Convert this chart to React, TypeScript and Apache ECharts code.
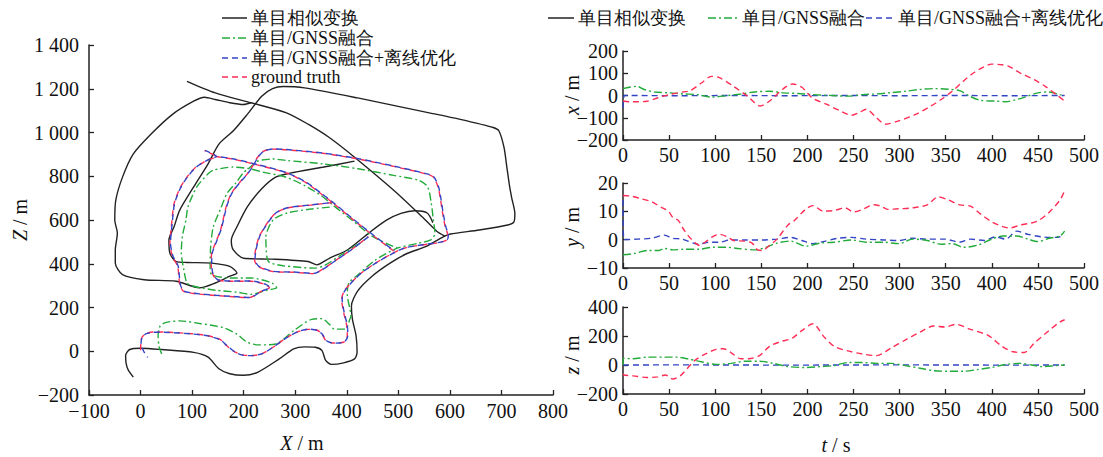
import React, { useEffect, useRef } from "react";
import * as echarts from "echarts";

// ---------- Left: trajectories (X, Z in m) ----------
const truthMain: number[][] = [[0,5],[2,60],[10,80],[25,88],[55,87],[100,80],[131,71],[155,53],[166,28],[182,-2],[200,-18],[214,-20],[235,-12],[262,26],[283,62],[304,88],[325,100],[342,97],[352,78],[359,50],[373,38],[394,41],[401,70],[400,116],[394,177],[390,237],[395,275],[411,320],[428,358],[456,403],[484,441],[511,471],[546,486],[581,498],[594,509],[596,531],[591,569],[586,630],[582,691],[577,751],[568,796],[553,811],[491,845],[422,879],[353,905],[283,921],[256,924],[238,914],[227,887],[218,849],[207,811],[193,774],[176,721],[166,660],[160,600],[155,554],[145,493],[138,448],[137,403],[139,358],[148,327],[173,320],[214,320],[242,305],[250,290],[235,275],[211,245],[180,249],[145,255],[103,264],[83,275],[76,305],[72,388],[62,433],[57,493],[59,554],[61,600],[65,675],[76,743],[90,796],[107,841],[128,872],[146,890],[124,917]];
const truthDiag: number[][] = [[146,890],[180,878],[230,850],[283,815],[320,772],[350,720],[373,678],[411,604],[449,533],[491,458]];
const truthInner: number[][] = [[373,680],[330,668],[284,655],[262,632],[250,600],[240,565],[230,524],[223,463],[221,418],[228,388],[255,365],[297,361],[335,355],[352,373],[380,418],[408,463],[442,524]];

const optMain: number[][] = [[14,-28],[6,0],[1,40],[3,62],[10,79],[25,87],[55,86],[100,79],[131,70],[155,52],[167,27],[183,-3],[200,-19],[214,-20],[236,-11],[262,27],[284,63],[305,89],[325,101],[342,96],[353,77],[360,49],[374,37],[395,42],[402,71],[401,117],[395,178],[391,238],[396,276],[412,321],[429,359],[457,404],[485,442],[512,472],[547,487],[582,499],[595,510],[597,532],[592,570],[587,631],[583,692],[578,752],[569,797],[554,812],[492,846],[423,880],[354,906],[284,922],[257,925],[239,915],[228,888],[219,850],[208,812],[194,775],[177,722],[167,661],[161,601],[156,555],[146,494],[139,449],[138,404],[140,359],[149,328],[174,321],[215,321],[243,306],[251,291],[236,276],[212,246],[181,250],[146,256],[104,265],[84,276],[77,306],[73,389],[63,434],[58,494],[60,555],[62,601],[66,676],[77,744],[91,797],[108,842],[129,873],[147,891],[125,918]];
const optDiag: number[][] = [[147,891],[181,879],[231,851],[284,816],[321,773],[351,721],[374,679],[412,605],[450,534],[492,459]];
const optInner: number[][] = [[374,681],[331,669],[285,656],[263,633],[251,601],[241,566],[231,525],[224,464],[222,419],[229,389],[256,366],[298,362],[336,356],[353,374],[381,419],[409,464],[443,525]];

const fusedMain: number[][] = [[41,-12],[36,20],[34,71],[38,116],[48,131],[76,139],[117,126],[159,109],[187,78],[207,41],[228,29],[262,33],[297,94],[332,146],[352,149],[366,124],[376,101],[397,101],[406,146],[408,161],[401,260],[404,312],[422,350],[456,418],[498,471],[539,494],[563,509],[571,539],[568,600],[564,675],[557,751],[540,781],[491,804],[422,834],[353,857],[283,872],[257,879],[235,874],[226,868],[212,840],[199,815],[185,770],[168,723],[155,650],[141,568],[136,480],[135,385],[138,350],[173,335],[214,335],[255,312],[264,290],[245,279],[214,260],[187,270],[145,279],[103,297],[90,312],[84,373],[79,448],[81,524],[88,600],[92,660],[109,751],[131,811],[141,828],[179,842],[212,834],[237,819]];
const fusedDiag: number[][] = [[237,819],[283,795],[320,755],[350,712],[373,668],[411,598],[449,526],[498,471]];
const fusedInner: number[][] = [[367,659],[330,650],[284,632],[257,600],[243,522],[245,431],[250,406],[276,391],[338,380],[356,391],[394,448],[435,509]];

const monoMain: number[][] = [[-14,-118],[-24,-85],[-28,-55],[-29,-20],[-21,8],[0,14],[41,8],[103,-5],[131,-27],[152,-80],[173,-103],[200,-110],[228,-95],[269,-35],[297,11],[318,20],[339,18],[352,3],[359,-42],[370,-60],[394,-53],[415,-35],[420,-5],[418,71],[411,146],[409,207],[421,275],[449,343],[484,403],[518,448],[553,478],[588,524],[601,536],[657,554],[712,577],[724,590],[726,630],[720,700],[716,751],[710,850],[705,932],[695,1008],[684,1023],[620,1060],[560,1090],[421,1158],[318,1204],[277,1210],[256,1201],[235,1166],[207,1083],[180,1008],[152,947],[131,857],[103,751],[76,645],[65,569],[55,508],[57,448],[69,410],[90,406],[138,403],[173,388],[187,358],[173,343],[145,312],[114,290],[69,320],[7,327],[-35,350],[-49,403],[-49,463],[-45,539],[-50,600],[-48,691],[-35,796],[-14,902],[20,992],[62,1083],[103,1143],[124,1161],[145,1151],[173,1136],[200,1128],[214,1136]];
const monoDiag: number[][] = [[90,1234],[145,1181],[214,1136],[283,1090],[325,1038],[366,977],[415,887],[491,736],[546,615],[574,550],[590,526]];
const monoInner: number[][] = [[415,869],[353,841],[290,814],[262,796],[235,743],[207,660],[187,569],[176,508],[180,463],[200,425],[255,421],[325,410],[342,395],[366,425],[401,463],[442,539],[477,599],[505,630],[532,642],[556,632],[567,588]];

// ---------- Right: errors vs time (t in s) ----------
const xErrMono: number[][] = [[0,-25],[8,-28],[15,-28],[26,-26],[38,-10],[50,4],[65,16],[73,22],[85,56],[96,86],[104,81],[120,41],[135,-3],[149,-47],[159,-25],[174,31],[184,52],[194,37],[205,-10],[221,-40],[236,-70],[248,-89],[256,-77],[264,-62],[273,-92],[285,-129],[299,-114],[318,-84],[334,-47],[345,-18],[357,19],[369,64],[380,101],[392,130],[400,141],[411,138],[419,130],[431,101],[446,71],[458,41],[470,4],[479,-25]];
const xErrFused: number[][] = [[0,31],[7,37],[15,41],[23,27],[34,16],[50,12],[65,7],[81,4],[96,-7],[112,-1],[128,7],[143,16],[159,19],[174,12],[190,9],[205,4],[221,1],[244,-3],[260,4],[275,7],[291,13],[306,19],[322,27],[337,31],[353,28],[365,22],[376,-3],[388,-22],[404,-25],[415,-28],[427,-18],[439,-3],[450,12],[462,16],[474,4],[479,0]];
const xErrOpt: number[][] = [[0,-55],[1,0],[60,-1],[120,0],[180,-1],[240,0],[300,-1],[360,0],[420,-1],[479,0]];

const yErrMono: number[][] = [[0,15.6],[8,15.4],[19,14.5],[31,13.4],[41,11.5],[49,10.1],[54,7.9],[60,6.8],[66,3.5],[74,0.2],[83,-2],[89,-0.9],[97,1],[105,1.9],[113,1],[120,-0.3],[132,-0.5],[140,-1.2],[146,-3.6],[151,-3.8],[159,-2],[167,0.2],[179,5.2],[186,6.8],[198,10.7],[206,12],[217,10.1],[229,10.3],[241,11.2],[250,9.8],[260,10.7],[272,12.3],[280,11.8],[287,10.7],[299,10.9],[314,11.2],[330,12.3],[342,15.1],[353,14],[365,12.3],[377,11.8],[388,9],[400,6.3],[412,4.6],[419,4.1],[431,5.2],[443,5.9],[451,6.8],[462,9.6],[474,14],[479,17.3]];
const yErrFused: number[][] = [[0,-5.3],[12,-4.9],[27,-3.8],[39,-3.8],[45,-3.1],[54,-3.6],[66,-3.4],[82,-3.4],[97,-2.7],[113,-2.7],[124,-3.1],[144,-3.6],[155,-2.7],[167,-1.2],[182,-0.5],[198,-2.3],[214,-1.2],[229,-0.9],[248,-0.1],[264,-0.9],[283,-0.9],[299,-1.4],[314,0.2],[330,-0.3],[345,-1.6],[357,-1.4],[369,-2.7],[384,-2],[400,0.2],[412,1.3],[427,1.3],[439,0.2],[450,-0.7],[462,0.5],[474,1.3],[479,3]];
const yErrOpt: number[][] = [[0,14],[1,0],[16,0.2],[31,0.5],[45,1.6],[54,0.5],[64,0.2],[82,-1.6],[93,-0.9],[105,-0.9],[116,-0.1],[132,-0.1],[151,-0.1],[167,0.2],[182,0.8],[194,-0.3],[206,-1.4],[217,-0.7],[233,0.5],[248,0.8],[264,0.2],[283,-0.1],[299,-0.3],[314,0.5],[330,0.2],[349,0.2],[365,-0.9],[377,0.2],[392,-0.3],[404,1],[415,0.2],[427,3],[439,1.9],[454,1],[470,0.8],[479,1.6]];

const zErrMono: number[][] = [[0,-60],[1,-69],[11,-75],[26,-86],[38,-82],[46,-69],[54,-97],[62,-75],[70,-22],[78,32],[89,75],[101,108],[109,112],[117,86],[128,43],[136,43],[148,65],[159,129],[171,161],[183,183],[194,237],[206,284],[218,194],[229,129],[244,97],[260,75],[275,65],[291,118],[306,172],[322,226],[337,269],[349,262],[361,280],[376,248],[396,204],[411,129],[423,91],[435,86],[446,151],[462,237],[474,297],[479,312]];
const zErrFused: number[][] = [[0,0],[0.5,47],[11,43],[26,54],[46,54],[58,54],[70,43],[85,22],[101,4],[117,11],[132,26],[148,26],[163,11],[179,-11],[198,-17],[214,-11],[229,-4],[244,17],[260,17],[275,11],[291,11],[306,-4],[322,-22],[337,-39],[353,-43],[369,-43],[384,-32],[400,-17],[415,4],[431,11],[443,0],[454,-11],[470,-4],[479,0]];
const zErrOpt: number[][] = [[0,0],[60,1],[120,0],[180,-1],[240,0],[300,1],[360,0],[420,-1],[479,0]];

const legendLeft = ["单目相似变换", "单目/GNSS融合", "单目/GNSS融合+离线优化", "ground truth"];
const legendRight = ["单目相似变换", "单目/GNSS融合", "单目/GNSS融合+离线优化"];

const BLACK = "#222222";
const GREEN = "#22aa3a";
const BLUE = "#3344c4";
const RED = "#ff2d55";
const FONT = "Liberation Serif";

const fmt = (v: number) => {
  const a = Math.abs(v);
  const s = a >= 1000 ? String(a).replace(/\B(?=(\d{3})+(?!\d))/g, " ") : String(a);
  return (v < 0 ? "\u2212" : "") + s;
};

type Kind = "solid" | "dash" | "dashdot";
const mk = (data: number[][], color: string, kind: Kind, idx: number, offset = 0, smooth = 0.25) => ({
  type: "line",
  xAxisIndex: idx,
  yAxisIndex: idx,
  data,
  showSymbol: false,
  symbol: "none",
  smooth,
  lineStyle: {
    color,
    width: 1.4,
    type: kind === "solid" ? "solid" : kind === "dash" ? [6, 4] : [8, 3, 2, 3],
    dashOffset: offset,
  },
  silent: true,
});

const axisCommon = {
  axisLine: { show: true, onZero: false, lineStyle: { color: "#222", width: 1.5 } },
  axisTick: { show: true, inside: true, length: 5, lineStyle: { color: "#222", width: 1.3 } },
  splitLine: { show: false },
  axisLabel: { color: "#111", fontSize: 20, fontFamily: FONT, formatter: fmt },
};

export default function App() {
  const ref = useRef<HTMLDivElement>(null);
  useEffect(() => {
    document.body.style.margin = "0";
    const chart = echarts.init(ref.current!, null, { renderer: "svg" });
    const grids = [
      { left: 89, top: 45, width: 464, height: 350 },
      { left: 623, top: 51, width: 461, height: 89 },
      { left: 623, top: 183, width: 461, height: 85 },
      { left: 623, top: 307, width: 461, height: 87 },
    ];
    const xAxes = [
      { gridIndex: 0, type: "value", min: -100, max: 800, interval: 100, ...axisCommon, axisLabel: { ...axisCommon.axisLabel, margin: 6 } },
      ...[1, 2, 3].map((g) => ({ gridIndex: g, type: "value", min: 0, max: 500, interval: 50, ...axisCommon, axisLabel: { ...axisCommon.axisLabel, margin: 5 } })),
    ];
    const yAxes = [
      { gridIndex: 0, type: "value", min: -200, max: 1400, interval: 200, ...axisCommon, axisLabel: { ...axisCommon.axisLabel, margin: 10 } },
      { gridIndex: 1, type: "value", min: -200, max: 200, interval: 100, ...axisCommon, axisLabel: { ...axisCommon.axisLabel, margin: 5 } },
      { gridIndex: 2, type: "value", min: -10, max: 20, interval: 10, ...axisCommon, axisLabel: { ...axisCommon.axisLabel, margin: 5 } },
      { gridIndex: 3, type: "value", min: -200, max: 400, interval: 200, ...axisCommon, axisLabel: { ...axisCommon.axisLabel, margin: 5 } },
    ];
    const series = [
      mk(monoMain, BLACK, "solid", 0),
      mk(monoDiag, BLACK, "solid", 0),
      mk(monoInner, BLACK, "solid", 0),
      mk(fusedMain, GREEN, "dashdot", 0),
      mk(fusedDiag, GREEN, "dashdot", 0),
      mk(fusedInner, GREEN, "dashdot", 0),
      mk(truthMain, RED, "dash", 0),
      mk(truthDiag, RED, "dash", 0),
      mk(truthInner, RED, "dash", 0),
      mk(optMain, BLUE, "dash", 0, 5),
      mk(optDiag, BLUE, "dash", 0, 5),
      mk(optInner, BLUE, "dash", 0, 5),
      mk(xErrOpt, BLUE, "dash", 1, 0, 0),
      mk(xErrFused, GREEN, "dashdot", 1, 0, 0.3),
      mk(xErrMono, RED, "dash", 1, 0, 0.3),
      mk(yErrOpt, BLUE, "dash", 2, 0, 0.3),
      mk(yErrFused, GREEN, "dashdot", 2, 0, 0.3),
      mk(yErrMono, RED, "dash", 2, 0, 0.3),
      mk(zErrOpt, BLUE, "dash", 3, 0, 0),
      mk(zErrFused, GREEN, "dashdot", 3, 0, 0.3),
      mk(zErrMono, RED, "dash", 3, 0, 0.3),
    ];

    const legendLine = (x1: number, x2: number, y: number, color: string, kind: Kind) => ({
      type: "line",
      shape: { x1, y1: y, x2, y2: y },
      style: { stroke: color, lineWidth: 1.5, lineDash: kind === "solid" ? null : kind === "dash" ? [6, 4] : [8, 3, 2, 3] },
      silent: true,
    });
    const legendText = (x: number, y: number, text: string) => ({
      type: "text",
      x,
      y,
      style: { text, fill: "#111", fontSize: 18, fontFamily: FONT, textAlign: "left", textVerticalAlign: "middle", align: "left", verticalAlign: "middle" },
      silent: true,
    });
    const nameText = (x: number, y: number, v: string, unit: string, rotate: boolean) => ({
      type: "text",
      x,
      y,
      rotation: rotate ? Math.PI / 2 : 0,
      style: {
        text: `{i|${v}}{n| / ${unit}}`,
        rich: {
          i: { fontStyle: "italic", fontSize: 20, fontFamily: FONT, fill: "#111" },
          n: { fontSize: 20, fontFamily: FONT, fill: "#111" },
        },
        fontSize: 20,
        fontFamily: FONT,
        textAlign: "center",
        textVerticalAlign: "middle",
        align: "center",
        verticalAlign: "middle",
      },
      silent: true,
    });

    const leftColors: [string, Kind][] = [[BLACK, "solid"], [GREEN, "dashdot"], [BLUE, "dash"], [RED, "dash"]];
    const leftRows = [18, 38, 58, 77];
    const graphic: any[] = [];
    legendLeft.forEach((t, i) => {
      graphic.push(legendLine(222, 247, leftRows[i], leftColors[i][0], leftColors[i][1]));
      graphic.push(legendText(251, leftRows[i], t));
    });
    const rightPos = [[548, 574, 578], [708, 737, 742], [866, 893, 898]];
    legendRight.forEach((t, i) => {
      graphic.push(legendLine(rightPos[i][0], rightPos[i][1], 18, leftColors[i][0], leftColors[i][1]));
      graphic.push(legendText(rightPos[i][2], 18, t));
    });
    graphic.push(nameText(20, 220, "Z", "m", true));
    graphic.push(nameText(302, 443, "X", "m", false));
    graphic.push(nameText(836, 445, "t", "s", false));
    graphic.push(nameText(572, 95, "x", "m", true));
    graphic.push(nameText(572, 227, "y", "m", true));
    graphic.push(nameText(572, 355, "z", "m", true));

    chart.setOption({
      animation: false,
      backgroundColor: "#ffffff",
      grid: grids,
      xAxis: xAxes,
      yAxis: yAxes,
      series,
      graphic,
    } as any);
    return () => chart.dispose();
  }, []);
  return <div ref={ref} style={{ position: "fixed", left: 0, top: 0, width: 1103, height: 457 }} />;
}
